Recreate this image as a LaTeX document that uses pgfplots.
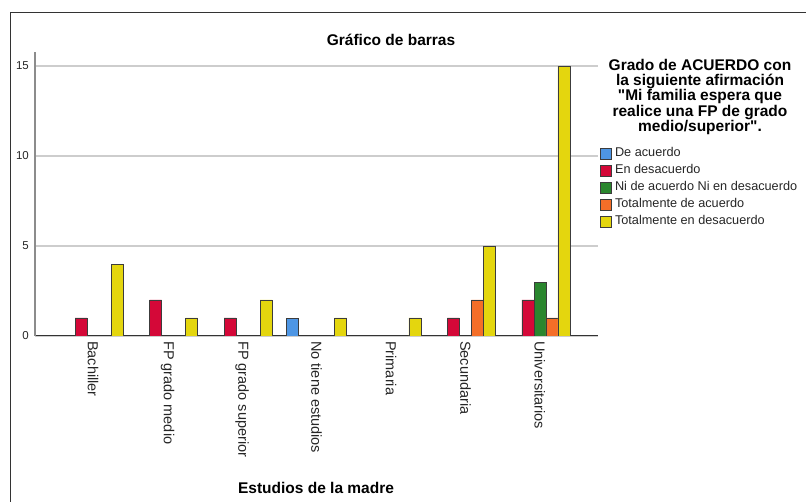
\documentclass[border=0pt]{standalone}
\usepackage{pgfplots}
\pgfplotsset{compat=1.18}
\usepackage{fontspec}
\setmainfont{Liberation Sans}[Ligatures=TeXOff]
\definecolor{cblue}{RGB}{78,150,228}
\definecolor{cred}{RGB}{212,8,56}
\definecolor{cgreen}{RGB}{42,134,46}
\definecolor{corange}{RGB}{244,110,40}
\definecolor{cyellow}{RGB}{228,214,14}
\definecolor{cedge}{RGB}{60,60,60}
\definecolor{cgrid}{RGB}{205,205,205}
\begin{document}
\begin{tikzpicture}[x=1pt,y=1pt]
\path[use as bounding box] (0,0) rectangle (806,502);
\draw[line width=1pt, black!80] (10,-2) -- (10,489) -- (808,489);
\node[font=\fontsize{15.5}{17}\selectfont\bfseries] at (391,462) {Gráfico de barras};
\node[font=\fontsize{15.5}{17}\selectfont\bfseries] at (316,14) {Estudios de la madre};
\node[font=\fontsize{15.5}{15.3}\selectfont\bfseries, align=center] at (700,405) {Grado de ACUERDO con\\la siguiente afirmación\\"Mi familia espera que\\realice una FP de grado\\medio/superior".};
\begin{axis}[
  at={(35pt,166pt)}, anchor=south west,
  scale only axis, width=563pt, height=284pt,
  xmin=-0.78, xmax=6.78, ymin=0, ymax=15.78,
  ybar=0pt, bar width=12pt,
  xtick={0,1,2,3,4,5,6},
  xticklabels={Bachiller,FP grado medio,FP grado superior,No tiene estudios,Primaria,Secundaria,Universitarios},
  xticklabel style={rotate=-90, anchor=west, inner sep=0pt, font=\fontsize{14.5}{16}\selectfont, text=black!85},
  xticklabel shift=5pt,
  ytick={0,5,10,15},
  yticklabel style={inner sep=0pt, font=\fontsize{11.5}{13}\selectfont, text=black!85},
  yticklabel shift=6pt,
  /pgf/number format/assume math mode=true,
  major tick length=0pt,
  axis x line*=bottom, axis y line*=left,
  x axis line style={-, black!80, line width=1pt},
  y axis line style={-, black!45, line width=1.8pt},
  ymajorgrids, grid style={cgrid, line width=1.2pt},
  legend style={at={(1.0036,0.6655)}, anchor=north west, draw=none, fill=none,
    inner sep=0pt, row sep=4pt, font=\fontsize{12.7}{14}\selectfont,
    nodes={text height=9pt, text depth=3pt, inner sep=0.5pt, text=black!85},
    /tikz/every odd column/.append style={column sep=2.5pt}},
  legend cell align=left,
  legend image code/.code={\draw[#1, line width=0.8pt] (0pt,-5.5pt) rectangle (11pt,5.5pt);},
  every axis plot/.append style={draw=cedge, line width=0.8pt},
]
\addplot[fill=cblue] coordinates {(3,1)};
\addplot[fill=cred] coordinates {(0,1) (1,2) (2,1) (5,1) (6,2)};
\addplot[fill=cgreen] coordinates {(6,3)};
\addplot[fill=corange] coordinates {(5,2) (6,1)};
\addplot[fill=cyellow] coordinates {(0,4) (1,1) (2,2) (3,1) (4,1) (5,5) (6,15)};
\legend{De acuerdo,En desacuerdo,Ni de acuerdo Ni en desacuerdo,Totalmente de acuerdo,Totalmente en desacuerdo}
\end{axis}
\end{tikzpicture}
\end{document}
